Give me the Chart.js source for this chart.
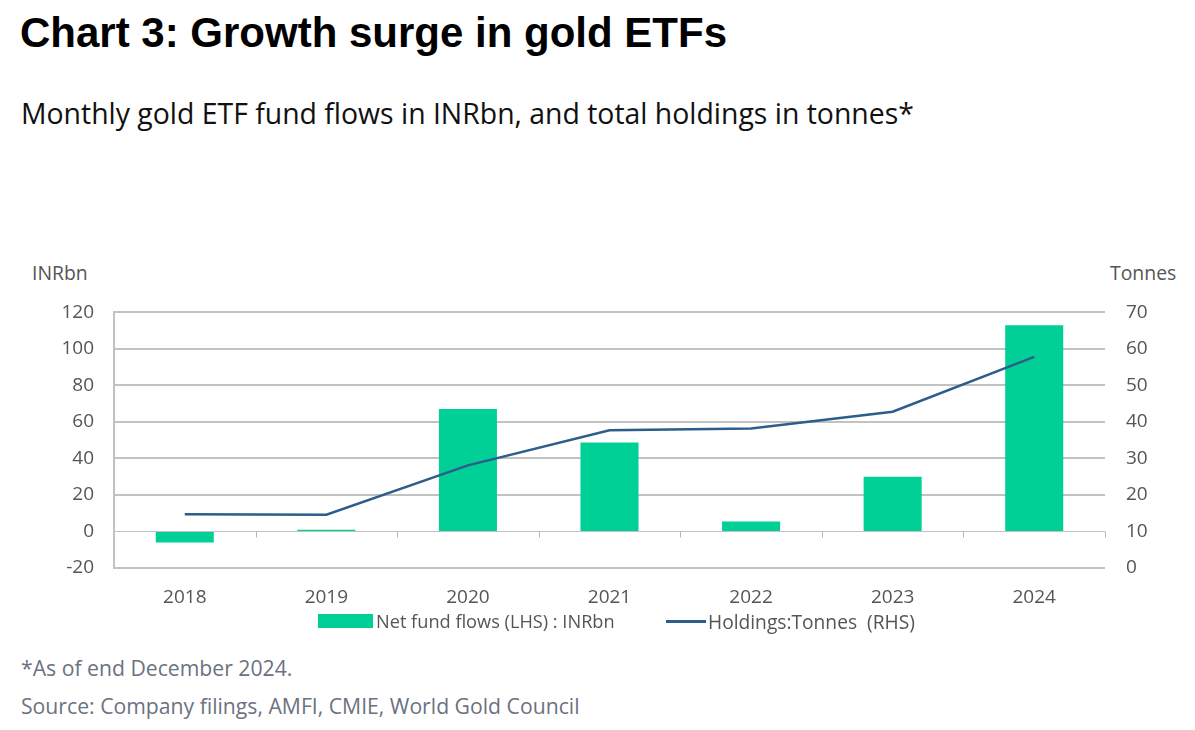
<!DOCTYPE html>
<html>
<head>
<meta charset="utf-8">
<script src="https://cdn.jsdelivr.net/npm/chart.js@4/dist/chart.umd.min.js"></script>
<style>
  html, body { margin:0; padding:0; background:#fff; width:1195px; height:730px; overflow:hidden; }
  .abs { position:absolute; white-space:nowrap; }
  #title { left:20px; top:9px; font-family:"Liberation Sans", Arial, sans-serif; font-weight:bold; font-size:42px; color:#000; }
  #subtitle { left:21px; top:94px; font-family:"Open Sans", "Noto Sans", sans-serif; font-size:28.4px; color:#111; }
  .axt { font-family:"Open Sans", "Noto Sans", sans-serif; font-size:19.4px; color:#555; top:259px; }
  #lt { left:32px; }
  #rt { left:1110px; }
  #wrap { position:absolute; left:0; top:280px; width:1195px; height:360px; }
  .leg { top:608px; font-family:"Open Sans", "Noto Sans", sans-serif; font-size:18.2px; color:#555; display:flex; align-items:center; height:26px; }
  .sw-bar { width:55px; height:14px; background:#00d096; display:inline-block; margin-right:3px; }
  .sw-line { width:40px; height:3px; background:#2c5d8b; display:inline-block; margin-right:2px; }
  .foot { left:21px; font-family:"Open Sans", "Noto Sans", sans-serif; font-size:21.2px; color:#6b7280; }
  #f1 { top:653px; }
  #f2 { top:691px; }
</style>
</head>
<body>
<div id="title" class="abs">Chart 3: Growth surge in gold ETFs</div>
<div id="subtitle" class="abs">Monthly gold ETF fund flows in INRbn, and total holdings in tonnes*</div>
<div id="lt" class="abs axt">INRbn</div>
<div id="rt" class="abs axt">Tonnes</div>
<div id="wrap"><canvas id="c" width="1195" height="360"></canvas></div>
<div class="abs leg" style="left:318px"><span class="sw-bar"></span>Net fund flows (LHS) : INRbn</div>
<div class="abs leg" style="left:666px"><span class="sw-line"></span><span style="font-size:19.2px">Holdings:Tonnes&nbsp;&nbsp;(RHS)</span></div>
<div id="f1" class="abs foot">*As of end December 2024.</div>
<div id="f2" class="abs foot">Source: Company filings, AMFI, CMIE, World Gold Council</div>
<script>
const years = ["2018","2019","2020","2021","2022","2023","2024"];
const netFlows = [-6.0, 0.9, 67.1, 48.8, 5.5, 30.0, 112.9];
const holdings = [14.7, 14.6, 28.1, 37.7, 38.2, 42.8, 57.8];
const leftTicks = [-20, 0, 20, 40, 60, 80, 100, 120];
const rightTicks = [0, 10, 20, 30, 40, 50, 60, 70];

const zeroTicks = {
  id: 'zeroTicks',
  afterDatasetsDraw(chart) {
    const x = chart.scales.x, y = chart.scales.y;
    const ctx = chart.ctx;
    const y0 = y.getPixelForValue(0);
    const step = (x.right - x.left) / years.length;
    ctx.save();
    ctx.strokeStyle = '#b5b5b5';
    ctx.lineWidth = 1;
    for (let i = 1; i <= years.length; i++) {
      const px = Math.round(x.left + step * i) + 0.5;
      ctx.beginPath();
      ctx.moveTo(px, y0);
      ctx.lineTo(px, y0 + 6);
      ctx.stroke();
    }
    ctx.restore();
  }
};

const tickFont = { family: 'Open Sans', size: 19 };

new Chart(document.getElementById('c'), {
  type: 'bar',
  data: {
    labels: years,
    datasets: [
      {
        type: 'line',
        label: 'Holdings:Tonnes  (RHS)',
        data: holdings,
        yAxisID: 'y1',
        borderColor: '#2c5d8b',
        borderWidth: 2.5,
        pointRadius: 0,
        tension: 0,
        order: 0
      },
      {
        type: 'bar',
        label: 'Net fund flows (LHS) : INRbn',
        data: netFlows,
        yAxisID: 'y',
        backgroundColor: '#00d096',
        categoryPercentage: 1,
        barPercentage: 0.41,
        order: 1
      }
    ]
  },
  plugins: [zeroTicks],
  options: {
    responsive: false,
    animation: false,
    devicePixelRatio: 1,
    layout: { padding: { left: 0, right: 0, top: 14, bottom: 0 } },
    plugins: { legend: { display: false }, tooltip: { enabled: false } },
    scales: {
      x: {
        offset: true,
        grid: { display: false },
        border: { display: false },
        ticks: { color: '#555', font: tickFont, padding: 10 },
        afterFit(s) { s.height = 72; }
      },
      y: {
        position: 'left',
        min: -20, max: 120,
        afterBuildTicks(s) { s.ticks = leftTicks.map(v => ({ value: v })); },
        grid: {
          color: '#c2c2c2',
          lineWidth: ctx => (ctx.tick && ctx.tick.value === 0) ? 1 : 2,
          drawTicks: false
        },
        border: { display: true, color: '#c2c2c2', width: 2 },
        ticks: { color: '#555', font: tickFont, padding: 20 },
        afterFit(s) { s.width = 114; }
      },
      y1: {
        position: 'right',
        min: 0, max: 70,
        afterBuildTicks(s) { s.ticks = rightTicks.map(v => ({ value: v })); },
        grid: { display: false, drawTicks: false },
        border: { display: false },
        ticks: { color: '#555', font: tickFont, padding: 21 },
        afterFit(s) { s.width = 90; }
      }
    }
  }
});
</script>
</body>
</html>
